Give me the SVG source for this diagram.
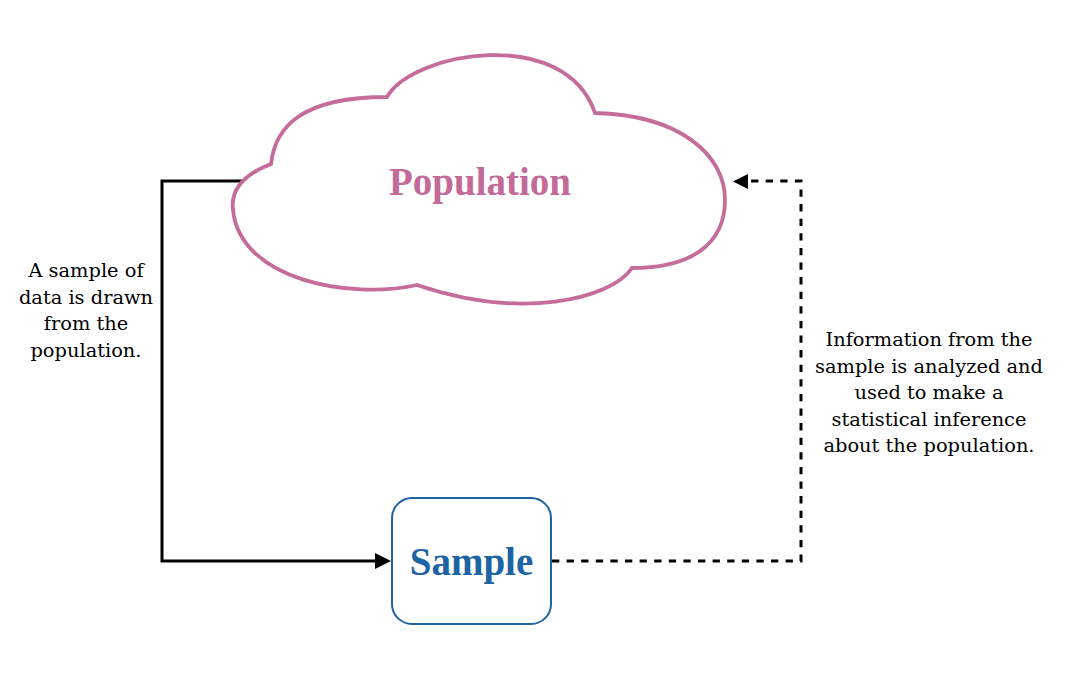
<svg xmlns="http://www.w3.org/2000/svg" width="1072" height="682" viewBox="0 0 1072 682">
  <style>
    .lbl { font-family: "DejaVu Serif", "Liberation Serif", serif; font-size: 19.4px; fill: #000; text-anchor: middle; }
    .title { font-family: "Liberation Serif", "DejaVu Serif", serif; font-weight: bold; text-anchor: middle; }
    .conn { fill: none; stroke: #000; stroke-width: 3; }
  </style>
  <rect width="1072" height="682" fill="#fff"/>
  <g id="connectors">
    <path class="conn" d="M245,181 H162 V561 H378" />
    <path d="M375,553 L391,561 L375,569 Z" fill="#000"/>
    <path class="conn" d="M552,561 H801 V181 H745" stroke-dasharray="7.3 7.3"/>
    <path d="M748,174 L733,181.5 L748,189 Z" fill="#000"/>
  </g>
  <g id="population">
    <path d="M271,164 C275,128 300,97 387,97 C412,52 565,25 595,113 C680,115 725,155 725,200 C725,245 690,268 632,268 C610,300 520,320 417,285 C350,300 240,280 233,210 C230,185 250,172 271,164 Z" fill="#fff" stroke="#C56C9A" stroke-width="3.8" stroke-linejoin="miter"/>
    <text class="title" x="480" y="195" font-size="39" fill="#C36B98">Population</text>
  </g>
  <g id="sample">
    <rect x="392" y="498" width="159" height="126" rx="20" ry="20" fill="#fff" stroke="#1C64A4" stroke-width="2"/>
    <text class="title" x="471.5" y="575" font-size="39" fill="#1C64A4">Sample</text>
  </g>
  <g id="label-left">
    <text class="lbl" x="86" y="277">A sample of</text>
    <text class="lbl" x="86" y="303.5">data is drawn</text>
    <text class="lbl" x="86" y="330">from the</text>
    <text class="lbl" x="86" y="357">population.</text>
  </g>
  <g id="label-right">
    <text class="lbl" x="929" y="346">Information from the</text>
    <text class="lbl" x="929" y="372.5">sample is analyzed and</text>
    <text class="lbl" x="929" y="399">used to make a</text>
    <text class="lbl" x="929" y="425.5">statistical inference</text>
    <text class="lbl" x="929" y="452">about the population.</text>
  </g>
</svg>
